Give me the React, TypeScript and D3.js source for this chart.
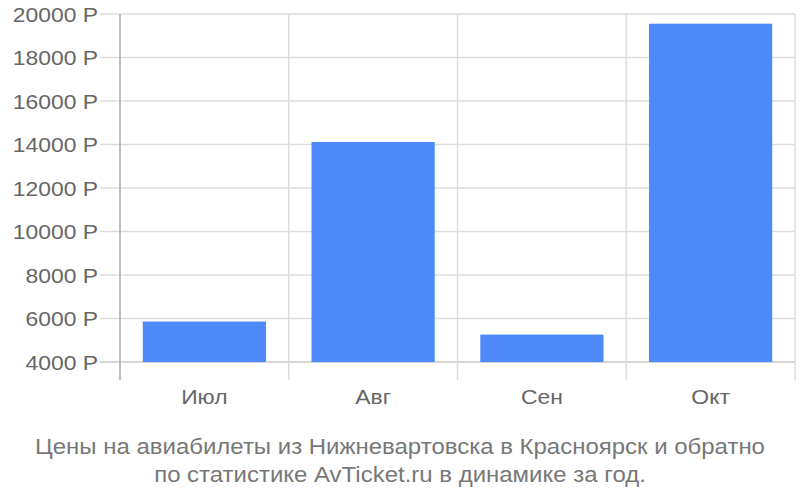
import React from "react";
import * as d3 from "d3";

const categories = ["Июл", "Авг", "Сен", "Окт"];
const values = [5860, 14115, 5260, 19555];
const yTicks = [4000, 6000, 8000, 10000, 12000, 14000, 16000, 18000, 20000];
const titleLines = [
  "Цены на авиабилеты из Нижневартовска в Красноярск и обратно",
  "по статистике AvTicket.ru в динамике за год.",
];

const SX = 1.09;

function T({ x, y, anchor, size, fill, children, dy }: any) {
  return (
    <text transform={`translate(${x},${y}) scale(${SX},1)`} dy={dy} textAnchor={anchor} fontSize={size} fill={fill}>
      {children}
    </text>
  );
}

export default function App() {
  const W = 800, H = 500;
  const left = 120, right = 795, top = 14, bottom = 362, axisBottom = 380;
  const x = d3.scaleBand<string>().domain(categories).range([left, right]).paddingInner(0.27).paddingOuter(0.135);
  const xb = d3.scaleBand<string>().domain(categories).range([left, right]);
  const y = d3.scaleLinear().domain([4000, 20000]).range([bottom, top]);
  const font = "'Liberation Sans', Arial, sans-serif";
  return (
    <svg width={W} height={H} style={{ position: "absolute", left: 0, top: 0 }} fontFamily={font}>
      <rect width={W} height={H} fill="#fff" />
      {yTicks.map((t) => (
        <g key={t}>
          <line x1={100} x2={right} y1={y(t)} y2={y(t)} stroke={t === 4000 ? "#c8c8c8" : "#dddddd"} strokeWidth={1.5} />
          <T x={98} y={y(t)} dy="0.36em" anchor="end" size={21} fill="#666">{`${t} Р`}</T>
        </g>
      ))}
      {categories.map((c) => (
        <line key={c} x1={(xb(c) as number) + xb.bandwidth()} x2={(xb(c) as number) + xb.bandwidth()} y1={top} y2={axisBottom} stroke="#dddddd" strokeWidth={1.5} />
      ))}
      {categories.map((c, i) => (
        <rect key={c} x={x(c)} width={x.bandwidth()} y={y(values[i])} height={bottom - y(values[i])} fill="#4d89f9" />
      ))}
      <line x1={left} x2={left} y1={top} y2={axisBottom} stroke="#aaaaaa" strokeWidth={1.5} />
      {categories.map((c) => (
        <T key={c} x={(xb(c) as number) + xb.bandwidth() / 2} y={404} anchor="middle" size={21} fill="#666">{c}</T>
      ))}
      {titleLines.map((l, i) => (
        <T key={i} x={400} y={454 + i * 28} anchor="middle" size={22} fill="#777">{l}</T>
      ))}
    </svg>
  );
}
